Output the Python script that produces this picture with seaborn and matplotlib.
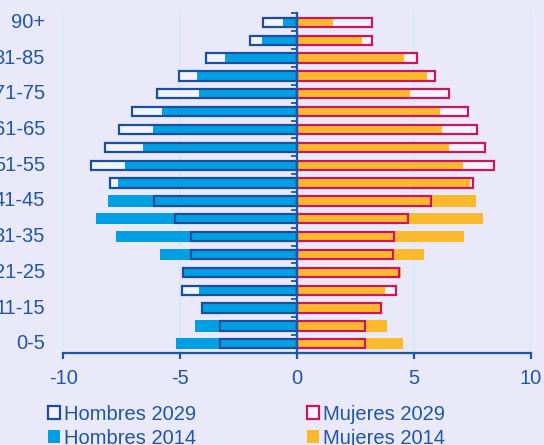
import matplotlib
matplotlib.use('Agg')
import matplotlib.pyplot as plt
import matplotlib.transforms as mtransforms
from matplotlib.patches import Patch
import pandas as pd
import seaborn as sns

# Data (percent of population)
ages = ['0-5', '6-10', '11-15', '16-20', '21-25', '26-30', '31-35', '36-40',
        '41-45', '46-50', '51-55', '56-60', '61-65', '66-70', '71-75',
        '76-80', '81-85', '86-90', '90+']
hombres_2014 = [5.17, 4.36, 4.05, 4.19, 4.85, 5.85, 7.75, 8.59, 8.10, 7.65,
                7.34, 6.60, 6.17, 5.76, 4.20, 4.29, 3.06, 1.48, 0.61]
hombres_2029 = [3.30, 3.30, 4.06, 4.90, 4.86, 4.53, 4.53, 5.20, 6.13, 8.01,
                8.83, 8.21, 7.61, 7.05, 6.01, 5.06, 3.89, 2.00, 1.47]
mujeres_2014 = [4.54, 3.87, 3.65, 3.76, 4.46, 5.43, 7.15, 7.98, 7.66, 7.39,
                7.09, 6.50, 6.20, 6.10, 4.84, 5.57, 4.57, 2.78, 1.52]
mujeres_2029 = [2.92, 2.92, 3.58, 4.25, 4.37, 4.12, 4.16, 4.77, 5.74, 7.54,
                8.41, 8.05, 7.70, 7.31, 6.51, 5.89, 5.13, 3.22, 3.19]
x_ticks = [-10, -5, 0, 5, 10]

df = pd.DataFrame({
    'edad': ages,
    'h2014': [-v for v in hombres_2014],
    'h2029': [-v for v in hombres_2029],
    'm2014': mujeres_2014,
    'm2029': mujeres_2029,
})

bg = '#E9E9FA'
txt = '#1F56A8'
c_h14 = '#009FE3'
c_m14 = '#FBBA2E'
c_h29 = '#1A4FA0'
c_m29 = '#C8175C'
c_in = '#F3F3FD'

plt.rcParams['font.family'] = ['Liberation Sans', 'DejaVu Sans']

fig = plt.figure(figsize=(5.44, 4.45), dpi=100, facecolor=bg)
ax = fig.add_axes([63.3 / 544, 92.3 / 445, 467.4 / 544, 339.3 / 445])
ax.set_facecolor(bg)

order = list(reversed(ages))  # seaborn puts the first category on top

# 2029 bar interiors, then 2014 filled bars, then 2029 outlines on top
for col in ['h2029', 'm2029']:
    sns.barplot(data=df, x=col, y='edad', order=order, orient='h', ax=ax,
                errorbar=None, width=0.52, color=c_in, saturation=1,
                linewidth=0, zorder=1)
for col, fillc in [('h2014', c_h14), ('m2014', c_m14)]:
    sns.barplot(data=df, x=col, y='edad', order=order, orient='h', ax=ax,
                errorbar=None, width=0.63, color=fillc, saturation=1,
                linewidth=0, zorder=2)
for col, edge in [('h2029', c_h29), ('m2029', c_m29)]:
    sns.barplot(data=df, x=col, y='edad', order=order, orient='h', ax=ax,
                errorbar=None, width=0.52, color=edge, saturation=1,
                fill=False, linewidth=1.6, zorder=3)

ax.set_xlim(-10, 10)
ax.set_ylim(len(ages) - 0.5, -0.5)
ax.set_xlabel('')
ax.set_ylabel('')

# axes styling
for s in ['top', 'right']:
    ax.spines[s].set_visible(False)
ax.spines['left'].set_position(('data', 0))
ax.spines['left'].set_color(txt)
ax.spines['left'].set_linewidth(1.6)
ax.spines['left'].set_zorder(4)
ax.spines['bottom'].set_color(txt)
ax.spines['bottom'].set_linewidth(1.6)

ax.set_xticks(x_ticks)
ax.set_xticklabels([str(t) for t in x_ticks])
ax.tick_params(axis='x', colors=txt, labelcolor=txt, labelsize=14.5,
               length=4, width=1.6, pad=7.5)
ax.set_yticks([i - 0.5 for i in range(len(ages) + 1)])
ax.set_yticklabels([])
ax.tick_params(axis='y', colors=txt, length=4, width=1.3, direction='out')

ax.xaxis.grid(True, color='#D2E8F8', linewidth=1.2, zorder=0)
ax.set_axisbelow(True)

# category labels at the far left (every other group)
trans = mtransforms.blended_transform_factory(fig.transFigure, ax.transData)
for k in range(0, len(ages), 2):
    ax.text(45 / 544, order.index(ages[k]), ages[k], transform=trans,
            ha='right', va='center', fontsize=14.5, color=txt)

handles = [
    Patch(facecolor=c_in, edgecolor=c_h29, linewidth=1.6, label='Hombres 2029'),
    Patch(facecolor=c_h14, edgecolor=c_h14, linewidth=0, label='Hombres 2014'),
    Patch(facecolor=c_in, edgecolor=c_m29, linewidth=1.6, label='Mujeres 2029'),
    Patch(facecolor=c_m14, edgecolor=c_m14, linewidth=0, label='Mujeres 2014'),
]
leg = fig.legend(handles=handles, ncol=2, loc='upper left',
                 bbox_to_anchor=(48 / 544, 1 - 404.5 / 445), frameon=False,
                 fontsize=14.5, handlelength=0.6, handleheight=0.6,
                 handletextpad=0.2, columnspacing=5.5, labelspacing=0.25,
                 borderpad=0, borderaxespad=0)
for t in leg.get_texts():
    t.set_color(txt)

fig.savefig('out.png', dpi=100, facecolor=bg)
